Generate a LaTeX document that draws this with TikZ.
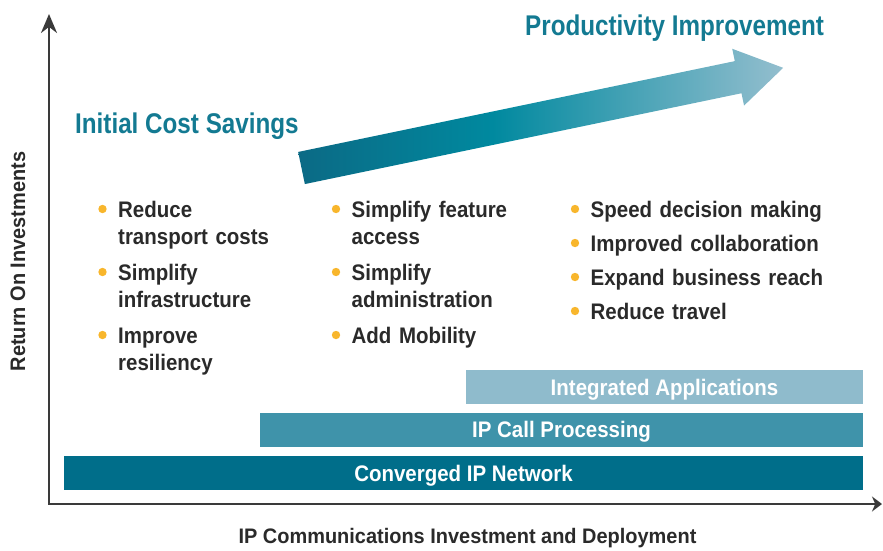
\documentclass[tikz,border=0pt]{standalone}
\usepackage{fontspec}
\setmainfont[FakeStretch=0.95]{Liberation Sans}
\newfontfamily\headfont[FakeStretch=0.85]{Liberation Sans}
\newfontfamily\bodyfont[FakeStretch=0.91]{Liberation Sans}
\usetikzlibrary{arrows.meta}

\definecolor{axisgray}{HTML}{3A3A3A}
\definecolor{bodytext}{HTML}{2A2A2A}
\definecolor{headteal}{HTML}{137A92}
\definecolor{bardark}{HTML}{006E8A}
\definecolor{barmid}{HTML}{3F93AA}
\definecolor{barlight}{HTML}{8FBBCC}
\definecolor{dotyellow}{HTML}{F8B62C}
\definecolor{growA}{HTML}{0B6A85}
\definecolor{growB}{HTML}{00899F}
\definecolor{growC}{HTML}{93BECE}

% colour ramp for the growth arrow (path box maps to 25bp..75bp)
\pgfdeclarehorizontalshading{growthshade}{100bp}{color(0bp)=(growA); color(25bp)=(growA); color(45bp)=(growB); color(75bp)=(growC); color(100bp)=(growC)}

\begin{document}
\begin{tikzpicture}[x=1pt,y=-1pt,
  axis/.style={draw=axisgray,line width=2.6pt},
  heading/.style={text=headteal,font=\headfont\bfseries\fontsize{28.5}{30}\selectfont,inner sep=0pt,anchor=base west},
  axislabel/.style={text=bodytext,font=\bfseries\fontsize{21}{24}\selectfont,inner sep=0pt,anchor=base},
  item/.style={text=bodytext,font=\bodyfont\bfseries\fontsize{22.5}{27.5}\selectfont,inner sep=0pt,anchor=base west,text width=240pt,align=left},
  dot/.style={fill=dotyellow},
  layer/.style={inner sep=0pt,text=white,font=\bodyfont\bfseries\fontsize{22.5}{24}\selectfont,minimum height=34pt,text height=16pt,text depth=0pt},
]
\useasboundingbox (0,0) rectangle (883,550);

% axes
\coordinate (ytop) at (49,14);
\coordinate (origin) at (49,504);
\coordinate (xend) at (882,504);
\draw[axis,{Stealth[length=19pt,width=16pt]}-{Stealth[length=10pt,width=15pt]}] (ytop) -- (origin) -- (xend);

\node[axislabel,rotate=90] (roi) at (25,261.5) {Return On Investments};
\node[axislabel] (invest) at (467.5,543) {IP Communications Investment and Deployment};

% growth arrow
\begin{scope}[shift={(301.5,168)},rotate=11.75]
  \shade[shading=growthshade] (0,-16.4) -- (446,-16.4) -- (446,-29) -- (492,0) -- (446,29) -- (446,16.4) -- (0,16.4) -- cycle;
\end{scope}

% headings
\node[heading] (prod) at (525,35) {Productivity Improvement};
\node[heading] (cost) at (75,133) {Initial Cost Savings};

% benefit lists
\node[item] (c1a) at (118,217) {Reduce\\transport costs};
\node[item] (c1b) at (118,280) {Simplify\\infrastructure};
\node[item] (c1c) at (118,343) {Improve\\resiliency};

\node[item] (c2a) at (351.5,217) {Simplify feature\\access};
\node[item] (c2b) at (351.5,280) {Simplify\\administration};
\node[item] (c2c) at (351.5,343) {Add Mobility};

\node[item] (c3a) at (590.5,217) {Speed decision making};
\node[item] (c3b) at (590.5,251) {Improved collaboration};
\node[item] (c3c) at (590.5,285) {Expand business reach};
\node[item] (c3d) at (590.5,319) {Reduce travel};

\foreach \n in {c1a,c1b,c1c,c2a,c2b,c2c,c3a,c3b,c3c,c3d}
  \fill[dot] ([shift={(-15.5pt,8pt)}]\n.base west) circle (4.2pt);

% technology layers
\node[layer,fill=barlight,minimum width=397pt] (apps) at (664.5,387) {Integrated Applications};
\node[layer,fill=barmid,minimum width=603pt] (call) at (561.5,429.5) {IP Call Processing};
\node[layer,fill=bardark,minimum width=799pt] (net) at (463.5,473) {Converged IP Network};
\end{tikzpicture}
\end{document}
